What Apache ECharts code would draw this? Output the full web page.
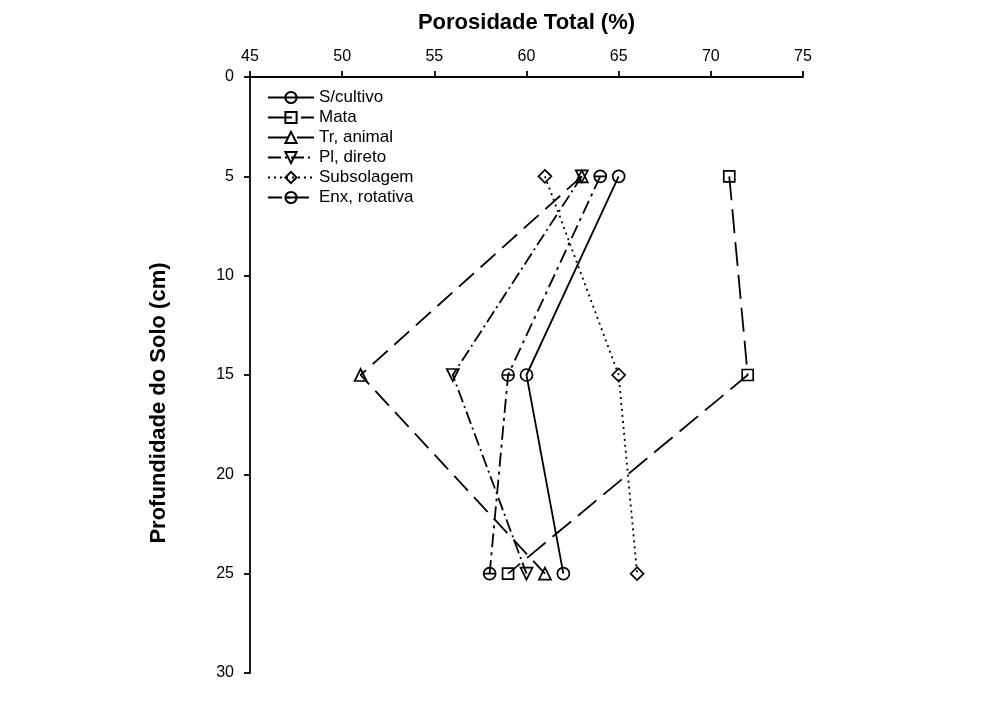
<!DOCTYPE html>
<html>
<head>
<meta charset="utf-8">
<script src="https://cdn.jsdelivr.net/npm/echarts@6/dist/echarts.min.js"></script>
<style>
html,body{margin:0;padding:0;background:#fff;}
#chart{width:998px;height:712px;}
</style>
</head>
<body>
<div id="chart"></div>
<script>
var depths = [5, 15, 25];
var xTicks = [45, 50, 55, 60, 65, 70, 75];
var yTicks = [0, 5, 10, 15, 20, 25, 30];
var seriesNames = ['S/cultivo', 'Mata', 'Tr, animal', 'Pl, direto', 'Subsolagem', 'Enx, rotativa'];
var semCultivo = [65, 60, 62];
var mata = [71, 72, 59];
var trAnimal = [63, 51, 61];
var plDireto = [63, 56, 60];
var subsolagem = [61, 65, 66];
var enxRotativa = [64, 59, 58];

var seriesValues = [semCultivo, mata, trAnimal, plDireto, subsolagem, enxRotativa];
var symbols = ['circle', 'rect', 'triangle', 'path://M0,0 L20,0 L10,18 Z', 'diamond',
  'path://M0,10 A10,10 0 1 1 20,10 A10,10 0 1 1 0,10 Z M0,10 L20,10'];
var symbolSizes = [12, 11, 12, 12, 13, 12];
var dashes = ['solid', [24, 9], [20, 9], [13, 4, 2, 4], [2, 4], [14, 5, 3, 5]];

var font = 'Liberation Sans, Arial, sans-serif';
var chart = echarts.init(document.getElementById('chart'));
var series = seriesNames.map(function (name, i) {
  return {
    name: name,
    type: 'line',
    data: seriesValues[i].map(function (v, j) { return [v, depths[j]]; }),
    symbol: symbols[i],
    symbolSize: symbolSizes[i],
    showAllSymbol: true,
    lineStyle: { color: '#000', width: 1.8, type: dashes[i] },
    itemStyle: { color: 'rgba(255,255,255,0)', borderColor: '#000', borderWidth: 1.7 },
    emphasis: { disabled: true },
    z: 2 + i
  };
});

chart.setOption({
  animation: false,
  backgroundColor: '#fff',
  textStyle: { fontFamily: font, color: '#000' },
  grid: { left: 250, top: 77, width: 553, height: 596 },
  legend: {
    left: 262,
    top: 84,
    orient: 'vertical',
    itemWidth: 46,
    itemHeight: 14,
    itemGap: 3,
    textStyle: { fontSize: 17, color: '#000', fontFamily: font },
    data: seriesNames
  },
  xAxis: {
    type: 'value',
    position: 'top',
    min: 45, max: 75, interval: 5,
    name: 'Porosidade Total (%)',
    nameLocation: 'middle',
    nameGap: 43,
    nameTextStyle: { fontSize: 22, fontWeight: 'bold', color: '#000', fontFamily: font },
    axisLine: { show: true, lineStyle: { color: '#000', width: 1.8 } },
    axisTick: { show: true, length: 6, lineStyle: { color: '#000', width: 1.8 } },
    axisLabel: { fontSize: 16, color: '#000', margin: 12,
      formatter: function (v) { return xTicks.indexOf(v) >= 0 ? String(v) : ''; } },
    splitLine: { show: false }
  },
  yAxis: {
    type: 'value',
    inverse: true,
    min: 0, max: 30, interval: 5,
    name: 'Profundidade do Solo (cm)',
    nameLocation: 'middle',
    nameGap: 80,
    nameRotate: 90,
    nameTextStyle: { fontSize: 22, fontWeight: 'bold', color: '#000', fontFamily: font,
      padding: [0, 56, 0, 0] },
    axisLine: { show: true, lineStyle: { color: '#000', width: 1.8 } },
    axisTick: { show: true, length: 6, lineStyle: { color: '#000', width: 1.8 } },
    axisLabel: { fontSize: 16, color: '#000', margin: 16,
      formatter: function (v) { return yTicks.indexOf(v) >= 0 ? String(v) : ''; } },
    splitLine: { show: false }
  },
  series: series
});
</script>
</body>
</html>
